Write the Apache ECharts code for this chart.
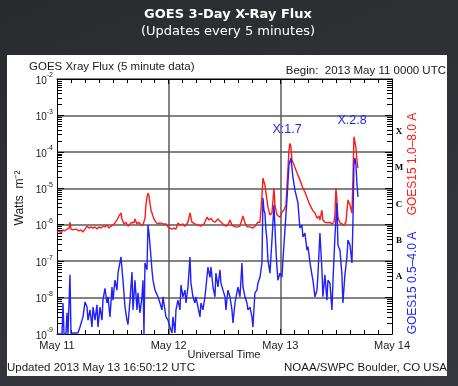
<!DOCTYPE html>
<html><head><meta charset="utf-8">
<script src="https://cdn.jsdelivr.net/npm/echarts@6/dist/echarts.min.js"></script>
<style>
html,body{margin:0;padding:0;width:458px;height:386px;overflow:hidden;background:linear-gradient(160deg,#2a2b2f 0%,#323338 60%,#37383d 100%);}
#panel{position:absolute;left:7px;top:55px;width:440px;height:321px;background:#fff;}
#chart{position:absolute;left:0;top:0;width:458px;height:386px;}
</style></head><body>
<div id="panel"></div><div id="chart"></div>
<script>
// x in hours since 2013-05-11 00:00 UTC, y in W/m^2
const dayLabels = ['May 11', 'May 12', 'May 13', 'May 14'];
const classLetters = ['X', 'M', 'C', 'B', 'A'];
const longChannel = [[0,6.3e-7],[0.43,6.8e-7],[0.86,5.9e-7],[1.29,7.2e-7],[1.72,6.8e-7],[2.15,7.6e-7],[2.58,8.1e-7],[2.79,1.17e-6],[3.01,7.6e-7],[3.44,7.2e-7],[4.08,7.6e-7],[4.73,6.8e-7],[5.16,7.2e-7],[5.59,6.3e-7],[6.02,7.6e-7],[6.45,9.1e-7],[6.88,8.1e-7],[7.31,8.7e-7],[7.74,8.1e-7],[8.17,8.7e-7],[8.59,7.6e-7],[9.02,8.7e-7],[9.45,8.1e-7],[9.88,9.1e-7],[10.31,8.7e-7],[10.74,9.8e-7],[11.17,8.1e-7],[11.60,9.1e-7],[12.03,9.8e-7],[12.46,1.12e-6],[12.89,1.35e-6],[13.32,1.74e-6],[13.75,2.1e-6],[13.97,1.44e-6],[14.40,1.05e-6],[14.83,1.17e-6],[15.26,9.1e-7],[15.69,1.05e-6],[16.12,1.17e-6],[16.55,1.12e-6],[16.76,1.44e-6],[17.19,1.05e-6],[17.62,1.17e-6],[18.05,9.8e-7],[18.48,9.8e-7],[18.91,1.5e-6],[19.12,3.5e-6],[19.34,5.8e-6],[19.55,7.4e-6],[19.77,6.2e-6],[19.98,4.0e-6],[20.20,2.5e-6],[20.41,2.1e-6],[20.84,1.44e-6],[21.27,1.17e-6],[21.70,1.05e-6],[22.13,1.12e-6],[22.78,1.05e-6],[23.42,1.05e-6],[23.85,8.7e-7],[24.28,8.1e-7],[24.71,7.6e-7],[25.14,8.1e-7],[25.57,7.6e-7],[26.00,1.12e-6],[26.43,9.8e-7],[27.07,1.05e-6],[27.50,9.1e-7],[28.15,1.17e-6],[28.58,2.1e-6],[29.01,1.17e-6],[29.65,1.05e-6],[30.30,9.8e-7],[30.94,9.1e-7],[31.59,1.05e-6],[32.23,1.6e-6],[32.66,1.35e-6],[33.09,1.5e-6],[33.52,1.26e-6],[33.95,1.17e-6],[34.59,1.44e-6],[35.02,1.26e-6],[35.67,1.05e-6],[36.31,9.1e-7],[36.74,9.8e-7],[37.17,1.35e-6],[37.60,9.8e-7],[38.25,8.7e-7],[38.89,8.7e-7],[39.32,9.1e-7],[39.97,1.74e-6],[40.40,1.12e-6],[40.83,8.7e-7],[41.47,8.7e-7],[42.11,8.1e-7],[42.54,9.1e-7],[43.19,1.17e-6],[43.62,1.17e-6],[44.05,5.8e-6],[44.26,1.9e-5],[44.48,1.7e-5],[44.69,1.23e-5],[45.12,4.8e-6],[45.34,3.1e-6],[45.77,1.85e-6],[46.20,2.1e-6],[46.63,1.0e-5],[46.84,3.5e-6],[47.27,1.85e-6],[47.92,1.6e-6],[48.34,2.2e-6],[48.77,2.5e-6],[49.21,3.5e-6],[49.63,3.2e-5],[49.85,1.1e-4],[50.06,1.7e-4],[50.28,1.35e-4],[50.49,6.0e-5],[50.92,4.4e-5],[51.35,3.2e-5],[51.78,2.3e-5],[52.21,1.7e-5],[52.86,1.0e-5],[53.29,7.9e-6],[53.93,4.8e-6],[54.36,3.5e-6],[55.01,2.4e-6],[55.44,2.1e-6],[55.87,1.5e-6],[56.30,1.74e-6],[56.51,1.35e-6],[56.94,2.5e-6],[57.15,1.35e-6],[57.58,1.17e-6],[58.23,1.12e-6],[58.66,1.17e-6],[59.09,1.05e-6],[59.52,1.17e-6],[59.73,1.85e-6],[59.95,1.0e-5],[60.16,4.8e-6],[60.38,1.6e-6],[60.81,1.12e-6],[61.24,1.05e-6],[61.67,9.8e-7],[62.10,1.17e-6],[62.53,4.8e-6],[62.96,3.5e-6],[63.39,2.1e-6],[63.60,1.7e-5],[63.82,2.6e-4],[64.03,2.8e-4],[64.25,1.3e-4],[64.46,6.0e-5],[64.68,3.6e-5]];
const shortChannel = [[0,1e-9],[0.64,1e-9],[1.07,1e-9],[1.29,7.1e-9],[1.50,1e-9],[1.93,1e-9],[2.15,3.8e-9],[2.36,1e-9],[2.79,4.2e-8],[3.01,1e-9],[3.44,1.07e-9],[4.51,1.07e-9],[4.94,1.55e-9],[5.59,2.95e-9],[6.02,7.6e-9],[6.45,5.5e-9],[6.66,2.4e-9],[7.09,4.6e-9],[7.52,1.55e-9],[7.74,5.5e-9],[8.17,2.4e-9],[8.59,6.3e-9],[8.81,1.55e-9],[9.24,5.5e-9],[9.67,2.4e-9],[9.88,8.5e-9],[10.31,1.8e-8],[10.74,7.1e-9],[10.96,1.05e-8],[11.39,2.95e-9],[11.82,1.95e-8],[12.03,8.5e-9],[12.46,3.0e-8],[12.89,1.6e-8],[13.11,4.7e-8],[13.75,1.3e-7],[14.18,3.0e-8],[14.61,5.5e-9],[15.04,2.4e-9],[15.26,1.8e-9],[15.69,8.5e-9],[16.12,5.0e-8],[16.33,4.6e-9],[16.76,3.0e-8],[17.19,4.6e-9],[17.40,1.35e-8],[17.83,3.8e-9],[18.26,1.05e-8],[18.48,3.0e-8],[18.69,1e-9],[18.91,8.9e-8],[19.34,5.8e-8],[19.55,9.8e-7],[19.77,5.9e-7],[20.20,1.3e-7],[20.41,5.8e-8],[20.63,3.0e-8],[21.06,1.6e-8],[21.70,1.05e-8],[22.13,7.1e-9],[22.56,4.6e-9],[22.78,1.05e-8],[23.42,2.95e-9],[23.85,2.4e-9],[24.28,1.55e-9],[24.71,1.07e-9],[24.92,2.95e-9],[25.35,1.07e-9],[25.57,4.6e-9],[26.00,8.5e-9],[26.43,4.6e-9],[26.64,2.2e-8],[27.07,1.05e-8],[27.50,1.6e-8],[27.72,7.1e-9],[28.15,1.95e-8],[28.58,1.3e-7],[28.79,2.5e-8],[29.22,1.05e-8],[29.65,7.1e-9],[29.87,1.05e-8],[30.30,5.5e-9],[30.73,2.95e-9],[30.94,7.1e-9],[31.37,4.6e-9],[31.80,1.05e-8],[32.02,1.95e-8],[32.44,6.9e-8],[32.87,3.6e-8],[33.09,6.9e-8],[33.52,1.95e-8],[33.95,1.05e-8],[34.16,4.7e-8],[34.59,1.95e-8],[35.02,5.8e-8],[35.24,2.5e-8],[35.67,1.6e-8],[36.10,1.05e-8],[36.31,4.6e-9],[36.74,1.6e-8],[37.17,1.05e-8],[37.60,4.6e-9],[37.82,2.0e-9],[38.25,7.1e-9],[38.89,1.95e-8],[39.32,1.05e-8],[39.75,8.9e-8],[39.97,1.95e-8],[40.40,1.05e-8],[40.83,7.1e-9],[41.04,4.6e-9],[41.47,5.5e-9],[41.90,2.95e-9],[42.11,1.55e-9],[42.54,1.35e-8],[42.97,1.6e-8],[43.19,2.5e-8],[43.62,3.6e-8],[44.05,8.9e-8],[44.26,5.4e-6],[44.48,2.5e-6],[44.69,2.1e-6],[44.91,7.2e-7],[45.12,3.8e-7],[45.34,1.07e-7],[45.77,4.7e-8],[46.20,3.8e-7],[46.63,3.5e-6],[47.06,2.0e-7],[47.27,6.9e-8],[47.49,3.0e-8],[47.92,4.7e-8],[48.34,3.6e-8],[48.56,1.07e-7],[48.99,7.2e-7],[49.42,4.8e-6],[49.85,4.4e-5],[50.28,6.8e-5],[50.71,2.0e-5],[51.14,8.9e-6],[51.78,4.0e-6],[52.21,8.1e-7],[52.64,9.8e-7],[52.86,4.6e-7],[53.29,5.9e-7],[53.72,2.0e-7],[53.93,2.5e-7],[54.36,9.5e-8],[54.79,4.2e-8],[55.01,3.0e-8],[55.44,1.05e-8],[55.87,1.6e-8],[56.08,4.2e-8],[56.51,5.9e-7],[56.94,5.8e-8],[57.15,1.05e-8],[57.58,4.2e-8],[58.01,8.5e-9],[58.23,3.0e-8],[58.66,2.5e-8],[59.09,4.6e-9],[59.30,2.5e-8],[59.73,4.6e-7],[60.16,4.0e-6],[60.38,2.8e-7],[60.81,2.0e-7],[61.24,4.2e-8],[61.45,7.1e-9],[61.88,4.2e-8],[62.31,1.3e-7],[62.53,3.8e-7],[62.96,2.8e-7],[63.39,8.9e-8],[63.60,1.12e-6],[63.82,4.4e-5],[64.03,6.8e-5],[64.25,4.4e-5],[64.46,1.4e-5],[64.68,5.8e-6]];

const TXT = '#1a1a1a';
const FONT = '"Liberation Sans", Arial, sans-serif';
const RED = '#ff1a1a', BLUE = '#1f1fff';

const chart = echarts.init(document.getElementById('chart'), null, {renderer: 'canvas'});

function xAxisCfg(pos, labels) {
  return {
    type: 'value', position: pos, min: 0, max: 72, interval: 24,
    axisLine: {show: true, onZero: false, lineStyle: {color: '#000', width: 1}},
    axisTick: {show: true, inside: true, length: 5, lineStyle: {color: '#000'}},
    minorTick: {show: true, splitNumber: 8, length: 4, lineStyle: {color: '#000'}},
    splitLine: {show: pos === 'bottom', showMinLine: false, showMaxLine: false, lineStyle: {color: '#5a5a5a', width: 1.5}},
    axisLabel: labels ? {show: true, margin: 6, color: TXT, fontFamily: FONT, fontSize: 11,
      formatter: v => dayLabels[Math.round(v / 24)]} : {show: false}
  };
}
function yAxisCfg(pos, labels) {
  return {
    type: 'log', logBase: 10, position: pos, min: 1e-9, max: 1e-2, interval: 1,
    axisLine: {show: true, onZero: false, lineStyle: {color: '#000', width: 1}},
    axisTick: {show: true, inside: true, length: 7, lineStyle: {color: '#000'}},
    splitLine: {show: pos === 'left', showMinLine: false, showMaxLine: false, lineStyle: {color: '#5a5a5a', width: 1.5}},
    axisLabel: labels ? {show: true, margin: 4,
      formatter: v => '{b|10}{e|-' + Math.abs(Math.round(Math.log10(v))) + '}',
      rich: {
        b: {fontFamily: FONT, fontSize: 10, color: TXT, verticalAlign: 'bottom', lineHeight: 14},
        e: {fontFamily: FONT, fontSize: 7, color: TXT, verticalAlign: 'top', lineHeight: 8}
      }} : {show: false}
  };
}

function txt(text, x, y, opt) {
  opt = opt || {};
  return {type: 'text', x: x, y: y, rotation: opt.rot || 0, silent: true, z: 10,
    style: {text: text, fill: opt.fill || TXT, font: opt.font || ('11px ' + FONT),
      textAlign: opt.align || 'left', textVerticalAlign: 'middle'}};
}

const texts = [
  txt('GOES 3-Day X-Ray Flux', 228, 15, {fill: '#fff', font: 'bold 13px "DejaVu Sans", sans-serif', align: 'center'}),
  txt('(Updates every 5 minutes)', 228, 32, {fill: '#fff', font: '13px "DejaVu Sans", sans-serif', align: 'center'}),
  txt('GOES Xray Flux (5 minute data)', 29, 67, {font: '11.5px ' + FONT}),
  txt('Begin:  2013 May 11 0000 UTC', 446, 71, {align: 'right', font: '11.5px ' + FONT}),
  txt('Watts  m\u207B\u00B2', 20, 198, {rot: Math.PI / 2, align: 'center', font: '12px ' + FONT}),
  txt('GOES15 1.0\u20138.0 A', 413, 164, {rot: Math.PI / 2, align: 'center', fill: RED, font: '12px ' + FONT}),
  txt('GOES15 0.5\u20134.0 A', 413, 283, {rot: Math.PI / 2, align: 'center', fill: BLUE, font: '12px ' + FONT}),
  txt('X:1.7', 287, 130, {align: 'center', fill: BLUE, font: '12.5px ' + FONT}),
  txt('X.2.8', 352, 121, {align: 'center', fill: BLUE, font: '12.5px ' + FONT}),
  txt('Universal Time', 224, 355, {align: 'center'}),
  txt('Updated 2013 May 13 16:50:12 UTC', 7, 368, {font: '11.5px ' + FONT}),
  txt('NOAA/SWPC Boulder, CO USA', 447, 368, {align: 'right', font: '11.5px ' + FONT})
];

chart.setOption({
  animation: false,
  backgroundColor: 'transparent',
  grid: {left: 57, top: 79, right: 66, bottom: 52, containLabel: false},
  xAxis: [xAxisCfg('bottom', true), xAxisCfg('top', false)],
  yAxis: [yAxisCfg('left', true), yAxisCfg('right', false)],
  series: [
    {name: 'GOES15 1.0-8.0 A', type: 'line', data: longChannel, xAxisIndex: 0, yAxisIndex: 0,
      showSymbol: false, clip: true, z: 3, lineStyle: {color: RED, width: 1.4}},
    {name: 'GOES15 0.5-4.0 A', type: 'line', data: shortChannel, xAxisIndex: 0, yAxisIndex: 0,
      showSymbol: false, clip: true, z: 4, lineStyle: {color: BLUE, width: 1.4}}
  ],
  graphic: texts
});

// log minor ticks and class letters positioned via the axis scales
const extra = [];
const xl = chart.convertToPixel({xAxisIndex: 0}, 0);
const xr = chart.convertToPixel({xAxisIndex: 0}, 72);
for (let e = -9; e < -2; e++) {
  for (let k = 2; k < 10; k++) {
    const y = Math.round(chart.convertToPixel({yAxisIndex: 0}, k * Math.pow(10, e))) + 0.5;
    extra.push({type: 'line', silent: true, z: 10, shape: {x1: xl, y1: y, x2: xl + 5, y2: y}, style: {stroke: '#000', lineWidth: 1}});
    extra.push({type: 'line', silent: true, z: 10, shape: {x1: xr - 5, y1: y, x2: xr, y2: y}, style: {stroke: '#000', lineWidth: 1}});
  }
}
classLetters.forEach((L, i) => {
  const y = chart.convertToPixel({yAxisIndex: 0}, 3.2 * Math.pow(10, -4 - i)) - 2;
  extra.push(txt(L, xr + 7, y, {align: 'center', font: 'bold 9px "Liberation Serif", serif', fill: '#000'}));
});
chart.setOption({graphic: texts.concat(extra)});
</script>
</body></html>
